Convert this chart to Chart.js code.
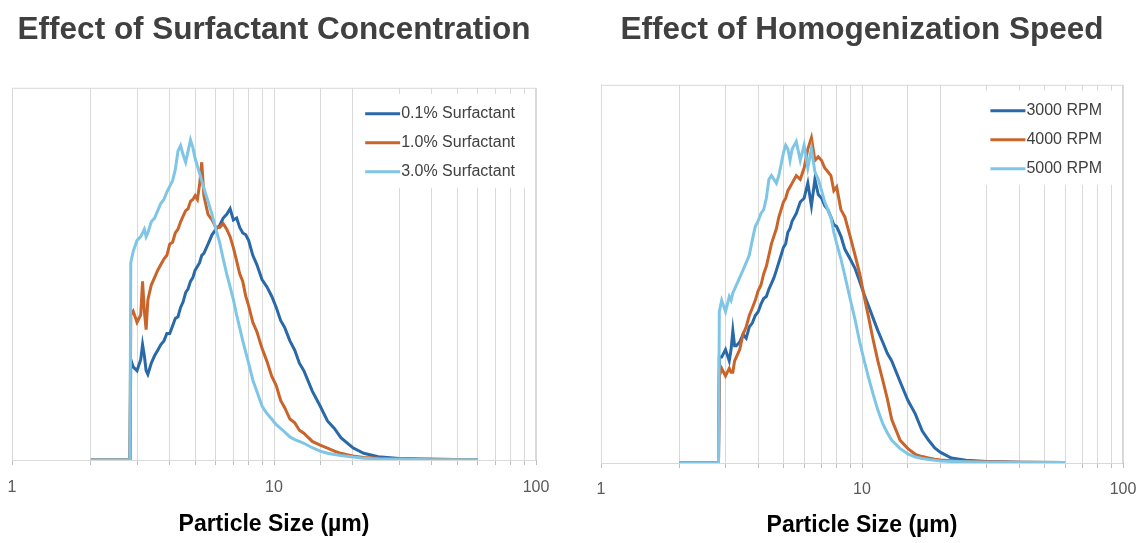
<!DOCTYPE html>
<html>
<head>
<meta charset="utf-8">
<script src="https://cdn.jsdelivr.net/npm/chart.js@4.4.0/dist/chart.umd.min.js"></script>
<style>
html,body{margin:0;padding:0;background:#fff;}
#wrap{position:relative;width:1141px;height:543px;}
.box{position:absolute;top:0;height:543px;}
</style>
</head>
<body>
<div id="wrap">
  <div class="box" style="left:0;width:570px"><canvas id="surf"></canvas></div>
  <div class="box" style="left:570px;width:571px"><canvas id="rpm"></canvas></div>
</div>
<script>
// particle sizes (µm) shared by every series
const sizes = [2.0, 2.82, 2.84, 2.9, 3.0, 3.1, 3.15, 3.2, 3.25, 3.3, 3.4, 3.5, 3.6, 3.7, 3.8, 3.9,
  4.0, 4.1, 4.2, 4.3, 4.4, 4.5, 4.6, 4.7, 4.8, 4.9, 5.0, 5.1, 5.2, 5.3, 5.4, 5.6, 5.8,
  6.0, 6.2, 6.4, 6.6, 6.8, 7.0, 7.2, 7.4, 7.6, 7.8, 8.0, 8.3, 8.6, 9.0, 9.4, 9.8,
  10.2, 10.6, 11, 11.5, 12, 12.5, 13, 14, 15, 16, 17, 18, 19, 20, 22, 25, 30, 40, 60];

const surf01 = [0, 0, 27, 25, 24, 27, 31, 28, 24, 23, 26, 28, 29.5, 31, 32, 34,
  34, 36, 38, 38.5, 41, 42.5, 45, 46, 48, 49, 51, 52, 53, 55, 55.5, 58, 60.5,
  62, 63, 65, 66, 67.5, 64.5, 65, 62.5, 61, 60.5, 59, 55, 52.5, 48.5, 46.5, 44,
  41, 37.5, 35.5, 32, 29.5, 26, 24, 18.5, 14.5, 10.5, 8.5, 6, 4.6, 3.3, 1.8, 0.9, 0.4, 0.2, 0.1];
const surf10 = [0, 0, 39, 40, 37, 39, 48, 40, 35, 43, 47, 49, 51, 52.5, 54, 55,
  58, 58.5, 61, 62, 64, 65.5, 67, 67.5, 69.5, 70, 71, 70, 74, 80, 71, 66, 64.5,
  62.5, 62.5, 63.5, 62, 60, 57, 53.5, 50, 48, 44, 41.5, 37, 34.5, 30, 26.5, 22.5,
  20, 16, 14, 11, 10, 8, 7.2, 5, 4, 3.2, 2.4, 1.8, 1.4, 1.1, 0.7, 0.5, 0.3, 0.2, 0.1];
const surf30 = [0, 0, 53, 56, 59, 60, 61, 62, 60, 61, 64, 65, 67, 69, 70, 72,
  73.5, 75, 78, 83, 84.5, 82, 80, 83, 86, 84, 81, 79, 77, 75, 73, 69.5, 66,
  62, 58.5, 54, 50, 46.5, 43, 39, 35.5, 32, 29, 26, 21.5, 18.5, 14.5, 12.5, 11,
  9.5, 8.5, 7.5, 6.2, 5.5, 5, 4.5, 3.3, 2.4, 1.8, 1.5, 1.2, 1, 0.8, 0.5, 0.3, 0.2, 0.1, 0.1];

const rpm3000 = [0, 0, 28, 28, 30, 27, 30, 35, 31, 31, 32, 34, 33, 36, 37, 39,
  40, 42, 43.5, 44, 46, 47.5, 49, 51, 53, 55, 57, 58, 61, 62, 64, 66, 69,
  70, 74, 68, 75, 71, 70, 68, 67, 65, 63, 62.5, 60, 56.5, 54, 51.5, 48,
  44.5, 41.5, 38.5, 35, 32, 29, 27, 21.5, 16.5, 13, 8.5, 6, 4, 2.8, 1.3, 0.7, 0.4, 0.2, 0.1];
const rpm4000 = [0, 0, 23, 25, 23, 25, 24, 24, 27, 28, 30, 34, 36, 39, 41, 43,
  45.5, 47, 50, 52, 55, 58, 60, 62, 65, 67, 69, 70, 72, 73, 74, 76, 75,
  78, 83, 86, 80, 81, 80, 78, 77, 76, 72, 73, 67, 65, 60, 55, 50,
  44, 38.5, 33, 27, 22, 17, 11.5, 6, 3.8, 2.3, 1.7, 1.3, 1, 0.8, 0.6, 0.4, 0.3, 0.2, 0.1];
const rpm5000 = [0, 0, 40, 43, 40, 44, 43, 45, 46, 47, 49, 51, 53, 55, 59, 62.5,
  64, 66, 67, 70, 75, 76, 75, 74, 76, 79, 82, 84, 83, 80, 83, 85, 80,
  84, 78, 83, 77, 75, 72, 69, 67, 65, 61, 58, 54, 49.5, 43.5, 38, 32,
  27, 22.5, 18.5, 14, 10.5, 8, 6, 3.8, 2.4, 1.6, 1.2, 0.9, 0.7, 0.5, 0.4, 0.3, 0.2, 0.1, 0.1];

const xTickLabels = [1, 10, 100];
const colors = ['#2a69a8', '#c9642b', '#7fc6e6'];

Chart.defaults.font.family = '"Liberation Sans", Arial, sans-serif';

// gray frame round the plot area
const frame = {
  id: 'frame',
  beforeDatasetsDraw(chart) {
    const {ctx, chartArea: a} = chart;
    ctx.save();
    ctx.strokeStyle = '#d9d9d9';
    ctx.lineWidth = 1;
    ctx.strokeRect(a.left + 0.5, a.top + 0.5, a.right - a.left - 1, a.bottom - a.top);
    ctx.restore();
  }
};

// legend inside the plot, top right, on a white box
const boxLegend = {
  id: 'boxLegend',
  afterDatasetsDraw(chart) {
    const {ctx, chartArea: a} = chart;
    const sets = chart.data.datasets.slice().sort((p, q) => p.idx - q.idx);
    ctx.save();
    ctx.font = '16px "Liberation Sans", Arial, sans-serif';
    const textW = Math.max(...sets.map(d => ctx.measureText(d.label).width));
    const textX = a.right - 21 - textW;
    const lineX = textX - 36;
    ctx.fillStyle = '#fff';
    ctx.fillRect(lineX - 6, a.top + 6, a.right - 4 - (lineX - 6), 94);
    sets.forEach((d, i) => {
      const y = a.top + 26 + 29 * i;
      ctx.strokeStyle = d.borderColor;
      ctx.lineWidth = 3;
      ctx.beginPath();
      ctx.moveTo(lineX, y);
      ctx.lineTo(textX - 1, y);
      ctx.stroke();
      ctx.fillStyle = '#404040';
      ctx.textBaseline = 'middle';
      ctx.fillText(d.label, textX, y);
    });
    ctx.restore();
  }
};

function makeChart(id, title, labels, series, pad) {
  const datasets = series.map((ys, i) => ({
    label: labels[i],
    idx: i,
    data: sizes.map((s, k) => ({x: s, y: ys[k]})),
    borderColor: colors[i],
    borderWidth: 3,
    pointRadius: 0,
    tension: 0,
    fill: false,
    order: series.length - i
  }));
  new Chart(document.getElementById(id), {
    type: 'line',
    data: {datasets},
    plugins: [frame, boxLegend],
    options: {
      responsive: true,
      maintainAspectRatio: false,
      animation: false,
      layout: {padding: {left: pad.left, right: pad.right, top: 0, bottom: pad.bottom}},
      plugins: {
        legend: {display: false},
        tooltip: {enabled: false},
        title: {
          display: true,
          text: title,
          color: '#404040',
          font: {size: 31.5, weight: 'bold'},
          padding: {top: 11, bottom: pad.titleGap}
        }
      },
      scales: {
        x: {
          type: 'logarithmic',
          min: 1,
          max: 100,
          grid: {color: '#d9d9d9', tickColor: '#bfbfbf', tickLength: 5},
          border: {color: '#bfbfbf'},
          ticks: {
            autoSkip: false,
            maxRotation: 0,
            padding: pad.tickPad,
            color: '#595959',
            font: {size: 16},
            callback: v => xTickLabels.includes(v) ? String(v) : ''
          },
          title: {
            display: true,
            text: 'Particle Size (µm)',
            color: '#000',
            font: {size: 23, weight: 'bold'},
            padding: {top: 0, bottom: 0}
          },
          afterFit(scale) {
            scale.paddingLeft = 0;
            scale.paddingRight = 0;
            scale.height = pad.axisH;
          }
        },
        y: {display: false, min: 0, max: 100}
      }
    }
  });
}

makeChart('surf', 'Effect of Surfactant Concentration',
  ['0.1% Surfactant', '1.0% Surfactant', '3.0% Surfactant'],
  [surf01, surf10, surf30],
  {left: 12, right: 34, bottom: 4.2, axisH: 78.8, titleGap: 39, tickPad: 13});

makeChart('rpm', 'Effect of Homogenization Speed',
  ['3000 RPM', '4000 RPM', '5000 RPM'],
  [rpm3000, rpm4000, rpm5000],
  {left: 31, right: 18, bottom: 3.2, axisH: 76.8, titleGap: 36, tickPad: 12});
</script>
</body>
</html>
